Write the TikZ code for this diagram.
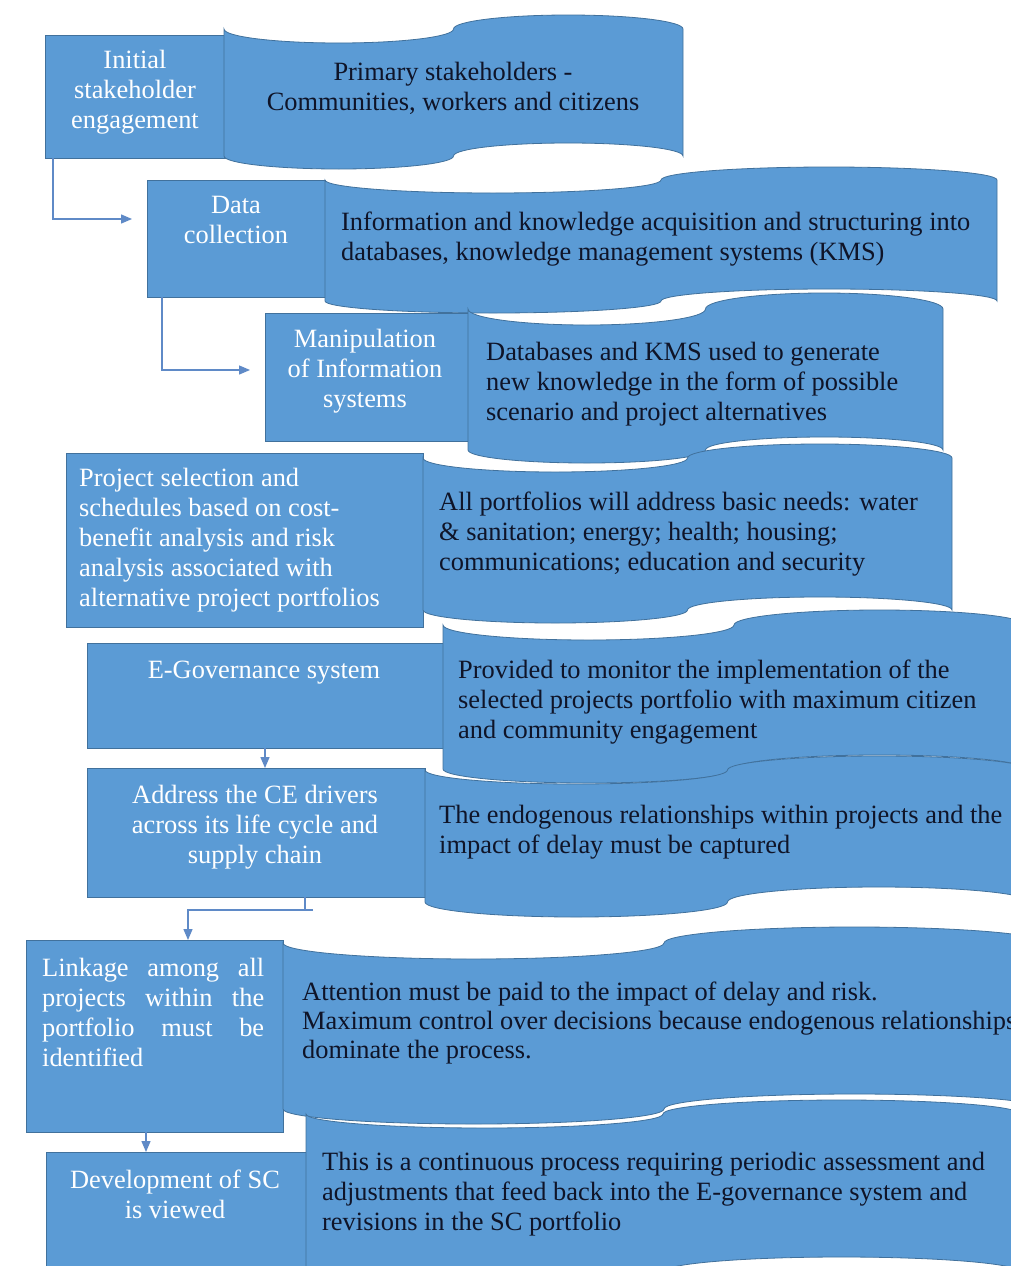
\documentclass[tikz,border=0pt]{standalone}
\usepackage{fontspec}
\setmainfont{Liberation Serif}
\usetikzlibrary{arrows.meta}
\definecolor{boxblue}{RGB}{91,155,213}
\definecolor{edgeblue}{RGB}{65,113,156}
\definecolor{linkblue}{RGB}{95,138,199}
\definecolor{inktext}{RGB}{15,20,40}
\tikzset{
  rectbox/.style={draw=edgeblue, fill=boxblue, line width=0.8pt, anchor=north west, inner sep=0pt, outer sep=0pt},
  tapebox/.style={draw=edgeblue, fill=boxblue, line width=0.8pt},
  whitetxt/.style={text=white, font=\fontsize{26.4}{30}\selectfont, inner sep=0pt, align=center, anchor=north},
  darktxt/.style={text=inktext, font=\fontsize{26.4}{30}\selectfont, inner sep=0pt, align=left, anchor=north west},
  link/.style={draw=linkblue, line width=1.3pt},
  linkarrow/.style={link, -{Triangle[length=11pt,width=9pt]}}
}
% L R Ytop rtop Ybot rbot
\newcommand\drawtape[6]{%
  \pgfmathsetmacro\qw{(#2-#1)/4}%
  \draw[tapebox] (#1,#3)
    arc[start angle=180,end angle=360,x radius=\qw pt,y radius=#4pt]
    arc[start angle=180,end angle=0,x radius=\qw pt,y radius=#4pt]
    -- (#2,#5)
    arc[start angle=0,end angle=180,x radius=\qw pt,y radius=#6pt]
    arc[start angle=0,end angle=-180,x radius=\qw pt,y radius=#6pt]
    -- cycle;}
\begin{document}
\begin{tikzpicture}[x=1pt,y=-1pt]
\path[use as bounding box, fill=white] (0,0) rectangle (1011,1266);
\clip (0,0) rectangle (1011,1266);

% left boxes
\node[rectbox, minimum width=180pt, minimum height=123pt] (r1) at (45,35) {};
\node[rectbox, minimum width=178pt, minimum height=117pt] (r2) at (147,180) {};
\node[rectbox, minimum width=203pt, minimum height=128pt] (r3) at (265,313) {};
\node[rectbox, minimum width=357pt, minimum height=174pt] (r4) at (66,453) {};
\node[rectbox, minimum width=360pt, minimum height=105pt] (r5) at (87,643) {};
\node[rectbox, minimum width=338pt, minimum height=129pt] (r6) at (87,768) {};
\node[rectbox, minimum width=257pt, minimum height=192pt] (r7) at (26,940) {};
\node[rectbox, minimum width=260pt, minimum height=130pt] (r8) at (46,1152) {};

% wavy tapes
\drawtape{224}{683}{29}{14}{156}{13}
\drawtape{325}{997}{180}{13}{301}{12}
\drawtape{468}{943}{309}{16}{450}{13}
\drawtape{423}{952}{458}{14}{610}{13}
\drawtape{443}{1025}{625}{15}{769}{14}
\drawtape{425}{1030}{770}{14}{902}{15}
\drawtape{283}{1045}{943}{16}{1109}{15}
\drawtape{306}{1020}{1114}{14}{1272}{15}

% box texts
\node[whitetxt] (r1t) at (135,47) {\strut Initial\\stakeholder\\engagement};
\node[whitetxt] (r2t) at (236,192) {\strut Data\\collection};
\node[whitetxt] (r3t) at (365,326) {\strut Manipulation\\of Information\\systems};
\node[whitetxt, align=left, anchor=north west] (r4t) at (79,465) {\strut Project selection and\\schedules based on cost-\\benefit analysis and risk\\analysis associated with\\alternative project portfolios};
\node[whitetxt] (r5t) at (264,657) {\strut E-Governance system};
\node[whitetxt] (r6t) at (255,782) {\strut Address the CE drivers\\across its life cycle and\\supply chain};
\node[whitetxt, align=left, anchor=north west] (r7t) at (42,955) {\strut\makebox[222pt][s]{Linkage among all}\\\makebox[222pt][s]{projects within the}\\\makebox[222pt][s]{portfolio must be}\\identified};
\node[whitetxt] (r8t) at (175,1167) {\strut Development of SC\\is viewed};

% tape texts
\node[darktxt, align=center, anchor=north] (t1t) at (453,59) {\strut Primary stakeholders -\\Communities, workers and citizens};
\node[darktxt] (t2t) at (341,209) {\strut Information and knowledge acquisition and structuring into\\databases, knowledge management systems (KMS)};
\node[darktxt] (t3t) at (486,339) {\strut Databases and KMS used to generate\\new knowledge in the form of possible\\scenario and project alternatives};
\node[darktxt] (t4t) at (439,489) {\strut All portfolios will address basic needs: water\\\& sanitation; energy; health; housing;\\communications; education and security};
\node[darktxt] (t5t) at (458,657) {\strut Provided to monitor the implementation of the\\selected projects portfolio with maximum citizen\\and community engagement};
\node[darktxt] (t6t) at (439,802) {\strut The endogenous relationships within projects and the\\impact of delay must be captured};
\node[darktxt, font=\fontsize{26.4}{29}\selectfont] (t7t) at (302,980) {\strut Attention must be paid to the impact of delay and risk.\\Maximum control over decisions because endogenous relationships\\dominate the process.};
\node[darktxt] (t8t) at (322,1149) {\strut This is a continuous process requiring periodic assessment and\\adjustments that feed back into the E-governance system and\\revisions in the SC portfolio};

% connectors
\draw[linkarrow] ([xshift=8pt]r1.south west) |- ([xshift=-15pt,yshift=-39pt]r2.north west);
\draw[linkarrow] ([xshift=15pt]r2.south west) |- ([xshift=-15pt,yshift=-57pt]r3.north west);
\draw[linkarrow] ([xshift=178pt]r5.south west) -- ([xshift=178pt]r5.south west |- r6.north);
\coordinate (c4) at ([xshift=218pt,yshift=-13pt]r6.south west);
\draw[link] ([xshift=218pt]r6.south west) -- (c4);
\draw[linkarrow] ([xshift=8pt]c4) -| ([xshift=162pt]r7.north west);
\draw[linkarrow] ([xshift=120pt]r7.south west) -- ([xshift=120pt]r7.south west |- r8.north);
\end{tikzpicture}
\end{document}
